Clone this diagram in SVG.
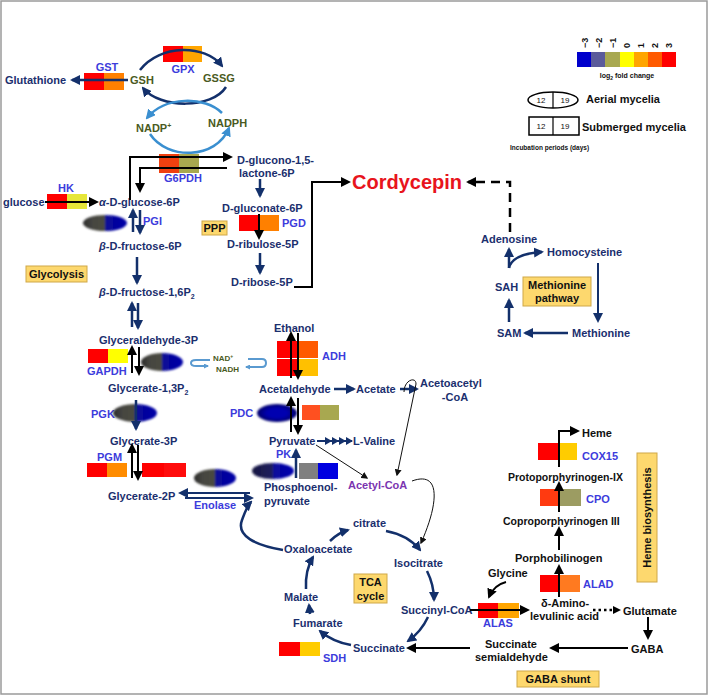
<svg xmlns="http://www.w3.org/2000/svg" width="709" height="696" viewBox="0 0 709 696">
<style>
text{font-family:"Liberation Sans",Arial,sans-serif;font-weight:bold}
.t{font-size:11px;fill:#1b2f6e}
.k{font-size:11px;fill:#111}
.kh{font-size:10.5px;fill:#111}
.e{font-size:11px;fill:#3c3cdc}
.g{font-size:11px;fill:#4a5a22}
.nv{fill:none;stroke:#13306b;stroke-width:2.5}
.nt{fill:none;stroke:#13306b;stroke-width:2}
.bk{fill:none;stroke:#000;stroke-width:2}
.bt{fill:none;stroke:#111;stroke-width:1}
.lb{fill:none;stroke:#3a8fd0;stroke-width:2.5}
.yb{fill:#fdd86e;stroke:#cfa848;stroke-width:1}
.bx{fill:#111;font-size:11px;text-anchor:middle}
</style>
<defs>
<marker id="an" viewBox="0 0 10 10" refX="8" refY="5" markerWidth="10" markerHeight="10" markerUnits="userSpaceOnUse" orient="auto"><path d="M0,0 L10,5 L0,10 z" fill="#13306b"/></marker>
<marker id="ab" viewBox="0 0 10 10" refX="8" refY="5" markerWidth="10" markerHeight="10" markerUnits="userSpaceOnUse" orient="auto"><path d="M0,0 L10,5 L0,10 z" fill="#000"/></marker>
<marker id="as" viewBox="0 0 10 10" refX="8" refY="5" markerWidth="7" markerHeight="7" markerUnits="userSpaceOnUse" orient="auto"><path d="M0,0 L10,5 L0,10 z" fill="#111"/></marker>
<marker id="al" viewBox="0 0 10 10" refX="8" refY="5" markerWidth="10" markerHeight="10" markerUnits="userSpaceOnUse" orient="auto"><path d="M0,0 L10,5 L0,10 z" fill="#3a8fd0"/></marker>
<marker id="als" viewBox="0 0 10 10" refX="8" refY="5" markerWidth="5" markerHeight="5" markerUnits="userSpaceOnUse" orient="auto"><path d="M0,0 L10,5 L0,10 z" fill="#5a9ad0"/></marker>
<linearGradient id="gb" x1="0" x2="1" y1="0" y2="0">
<stop offset="0" stop-color="#2a2a2a"/><stop offset="0.2" stop-color="#454540"/><stop offset="0.5" stop-color="#4a4a40"/><stop offset="0.5" stop-color="#0a0a95"/><stop offset="1" stop-color="#0000a8"/></linearGradient>
<linearGradient id="gk" x1="0" x2="1" y1="0" y2="0">
<stop offset="0" stop-color="#151540"/><stop offset="0.5" stop-color="#202060"/><stop offset="0.5" stop-color="#0a0a9a"/><stop offset="1" stop-color="#0000b0"/></linearGradient>
<radialGradient id="gp"><stop offset="0.5" stop-color="#0000b0"/><stop offset="1" stop-color="#00006a"/></radialGradient>
<filter id="soft" x="-20%" y="-40%" width="140%" height="180%"><feGaussianBlur stdDeviation="1.2"/></filter>
</defs>
<rect x="0" y="0" width="709" height="696" fill="#fff"/>
<rect x="1" y="1" width="706" height="693" fill="none" stroke="#9a9a9a" stroke-width="1.5"/>

<!-- Legend -->
<g id="legend">
<rect x="577" y="52" width="14" height="15" fill="#0000cc"/>
<rect x="591" y="52" width="14" height="15" fill="#5b5b9b"/>
<rect x="605" y="52" width="15" height="15" fill="#a8a850"/>
<rect x="620" y="52" width="14" height="15" fill="#ffff00"/>
<rect x="634" y="52" width="14" height="15" fill="#ffa500"/>
<rect x="648" y="52" width="14" height="15" fill="#ff5a00"/>
<rect x="662" y="52" width="14" height="15" fill="#ff0000"/>
<g font-size="9" fill="#111" style="font-weight:normal">
<text transform="translate(588,48) rotate(-90)">−3</text>
<text transform="translate(602,48) rotate(-90)">−2</text>
<text transform="translate(616,48) rotate(-90)">−1</text>
<text transform="translate(630,48) rotate(-90)">0</text>
<text transform="translate(644,48) rotate(-90)">1</text>
<text transform="translate(658,48) rotate(-90)">2</text>
<text transform="translate(672,48) rotate(-90)">3</text>
</g>
<text x="627" y="78" font-size="7" fill="#111" text-anchor="middle">log<tspan font-size="5" dy="2">2</tspan><tspan dy="-2"> fold change</tspan></text>
<ellipse cx="553" cy="100" rx="25" ry="8" fill="#fff" stroke="#000" stroke-width="1.5"/>
<line x1="553" y1="92" x2="553" y2="108" stroke="#000" stroke-width="1.2"/>
<text x="541" y="103" font-size="8" fill="#111" text-anchor="middle" style="font-weight:normal">12</text>
<text x="565" y="103" font-size="8" fill="#111" text-anchor="middle" style="font-weight:normal">19</text>
<text x="586" y="103" font-size="11" fill="#111">Aerial mycelia</text>
<rect x="529" y="117" width="50" height="18" fill="#fff" stroke="#000" stroke-width="1.5"/>
<line x1="553" y1="117" x2="553" y2="135" stroke="#000" stroke-width="1.2"/>
<text x="541" y="129" font-size="8" fill="#111" text-anchor="middle" style="font-weight:normal">12</text>
<text x="565" y="129" font-size="8" fill="#111" text-anchor="middle" style="font-weight:normal">19</text>
<text x="582" y="131" font-size="11" fill="#111">Submerged mycelia</text>
<text x="510" y="150" font-size="6.5" fill="#111">Incubation periods (days)</text>
</g>

<!-- Glutathione cycle -->
<g id="glutathione-cycle">
<rect x="163" y="46" width="20" height="16" fill="#ff0000"/><rect x="183" y="46" width="19" height="16" fill="#ffa500"/>
<text class="e" x="183" y="73" text-anchor="middle">GPX</text>
<rect x="84" y="73" width="20" height="17" fill="#ff0000"/><rect x="104" y="73" width="20" height="17" fill="#ff8000"/>
<text class="e" x="107" y="71" text-anchor="middle">GST</text>
<text class="t" x="5" y="84">Glutathione</text>
<text class="g" x="130" y="84">GSH</text>
<text class="g" x="203" y="82">GSSG</text>
<text class="g" x="136" y="132">NADP<tspan font-size="7" dy="-4">+</tspan></text>
<text class="g" x="208" y="127">NADPH</text>
</g>

<!-- Glycolysis -->
<g id="glycolysis">
<text class="t" x="3" y="206">glucose</text>
<rect x="47" y="194" width="20" height="15" fill="#ff0000"/><rect x="67" y="194" width="20" height="15" fill="#e6e63a"/>
<text class="e" x="66" y="192" text-anchor="middle">HK</text>
<text class="t" x="99" y="206"><tspan font-style="italic">α</tspan>-D-glucose-6P</text>
<ellipse cx="105" cy="223" rx="22" ry="8" fill="url(#gb)" filter="url(#soft)"/>
<text class="e" x="143" y="225">PGI</text>
<text class="t" x="99" y="250"><tspan font-style="italic">β</tspan>-D-fructose-6P</text>
<rect class="yb" x="26" y="266" width="61" height="16"/>
<text class="bx" x="56.5" y="278">Glycolysis</text>
<text class="t" x="99" y="296"><tspan font-style="italic">β</tspan>-D-fructose-1,6P<tspan font-size="7" dy="3">2</tspan></text>
<text class="t" x="99" y="344">Glyceraldehyde-3P</text>
<rect x="88" y="349" width="20" height="14" fill="#ff0000"/><rect x="108" y="349" width="20" height="14" fill="#ffff00"/>
<text class="e" x="87" y="375">GAPDH</text>
<ellipse cx="162" cy="362" rx="21" ry="9" fill="url(#gb)" filter="url(#soft)"/>
<text x="213" y="361" font-size="8" fill="#4a5a22">NAD<tspan font-size="5" dy="-3">+</tspan></text>
<text x="216" y="372" font-size="8" fill="#4a5a22">NADH</text>
<text class="t" x="108" y="392">Glycerate-1,3P<tspan font-size="7" dy="3">2</tspan></text>
<text class="e" x="91" y="418">PGK</text>
<ellipse cx="135" cy="413" rx="22" ry="9" fill="url(#gb)" filter="url(#soft)"/>
<text class="t" x="110" y="445">Glycerate-3P</text>
<text class="e" x="97" y="461">PGM</text>
<rect x="87" y="463" width="20" height="14" fill="#ff0000"/><rect x="107" y="463" width="20" height="14" fill="#ff8c00"/>
<rect x="142" y="463" width="22" height="14" fill="#ff0000"/><rect x="164" y="463" width="22" height="14" fill="#ff0c0c"/>
<ellipse cx="215" cy="478" rx="21" ry="9" fill="url(#gb)" filter="url(#soft)"/>
<text class="t" x="108" y="500">Glycerate-2P</text>
<text class="e" x="194" y="509">Enolase</text>
</g>

<!-- Pentose phosphate pathway -->
<g id="ppp">
<rect x="159" y="154" width="20" height="19" fill="#f04010"/><rect x="179" y="154" width="20" height="19" fill="#a8a850"/>
<text class="e" x="183" y="182" text-anchor="middle">G6PDH</text>
<text class="t" x="237" y="164">D-glucono-1,5-</text>
<text class="t" x="239" y="177">lactone-6P</text>
<text class="t" x="222" y="212">D-gluconate-6P</text>
<rect class="yb" x="202" y="221" width="25" height="14"/>
<text class="bx" x="214.5" y="232">PPP</text>
<rect x="239" y="215" width="20" height="16" fill="#ff0000"/><rect x="259" y="215" width="20" height="16" fill="#ff8000"/>
<text class="e" x="282" y="227">PGD</text>
<text class="t" x="227" y="248">D-ribulose-5P</text>
<text class="t" x="231" y="286">D-ribose-5P</text>
</g>

<g id="cordycepin">
<text x="352" y="189" font-size="20" fill="#e8141c">Cordycepin</text>
</g>

<!-- Methionine pathway -->
<g id="methionine">
<text class="t" x="481" y="243">Adenosine</text>
<text class="t" x="547" y="256">Homocysteine</text>
<text class="t" x="495" y="291">SAH</text>
<rect class="yb" x="523" y="277" width="68" height="29"/>
<text class="bx" x="557" y="289">Methionine</text>
<text class="bx" x="557" y="302">pathway</text>
<text class="t" x="497" y="337">SAM</text>
<text class="t" x="572" y="337">Methionine</text>
</g>

<!-- Fermentation / pyruvate -->
<g id="pyruvate-branch">
<text class="t" x="274" y="332">Ethanol</text>
<rect x="277" y="341" width="20" height="17" fill="#ff0000"/><rect x="297" y="341" width="21" height="17" fill="#ff5a00"/>
<rect x="277" y="359" width="20" height="17" fill="#ff0000"/><rect x="297" y="359" width="21" height="17" fill="#ffc000"/>
<text class="e" x="322" y="360">ADH</text>
<text class="t" x="259" y="393">Acetaldehyde</text>
<text class="t" x="356" y="393">Acetate</text>
<text class="t" x="420" y="387">Acetoacetyl</text>
<text class="t" x="455" y="401" text-anchor="middle">-CoA</text>
<text class="e" x="230" y="417">PDC</text>
<ellipse cx="277" cy="413" rx="20" ry="9" fill="url(#gp)" filter="url(#soft)"/>
<rect x="302" y="405" width="18" height="15" fill="#ff5020"/><rect x="320" y="405" width="19" height="15" fill="#a8a850"/>
<text class="t" x="269" y="445">Pyruvate</text>
<text class="t" x="353" y="445">L-Valine</text>
<text class="e" x="276" y="458">PK</text>
<ellipse cx="273" cy="471" rx="21" ry="8" fill="url(#gk)" filter="url(#soft)"/>
<rect x="299" y="463" width="19" height="16" fill="#808080"/><rect x="318" y="463" width="20" height="16" fill="#0000e0"/>
<text class="t" x="264" y="491">Phosphoenol-</text>
<text class="t" x="264" y="505">pyruvate</text>
<text x="348" y="489" font-size="11" fill="#7b35b0">Acetyl-CoA</text>
</g>

<!-- TCA cycle -->
<g id="tca">
<text class="t" x="353" y="527">citrate</text>
<text class="t" x="284" y="553">Oxaloacetate</text>
<text class="t" x="394" y="567">Isocitrate</text>
<rect class="yb" x="354" y="574" width="33" height="29"/>
<text class="bx" x="370.5" y="586">TCA</text>
<text class="bx" x="370.5" y="600">cycle</text>
<text class="t" x="284" y="601">Malate</text>
<text class="t" x="401" y="614">Succinyl-CoA</text>
<text class="t" x="293" y="627">Fumarate</text>
<text class="t" x="353" y="652">Succinate</text>
<rect x="279" y="642" width="21" height="14" fill="#ff0000"/><rect x="300" y="642" width="20" height="14" fill="#ffcc00"/>
<text class="e" x="323" y="662">SDH</text>
</g>

<!-- Heme biosynthesis and GABA shunt -->
<g id="heme">
<text class="k" x="582" y="437">Heme</text>
<rect x="538" y="443" width="20" height="17" fill="#ff0000"/><rect x="558" y="443" width="19" height="17" fill="#ffcc00"/>
<text class="e" x="582" y="460">COX15</text>
<text class="kh" x="508" y="481">Protoporphyrinogen-IX</text>
<rect x="540" y="489" width="20" height="17" fill="#ff3a10"/><rect x="560" y="489" width="21" height="17" fill="#9c9c62"/>
<text class="e" x="586" y="503">CPO</text>
<text class="kh" x="503" y="525">Coproporphyrinogen III</text>
<text class="k" x="515" y="562">Porphobilinogen</text>
<rect x="540" y="575" width="20" height="17" fill="#ff0000"/><rect x="560" y="575" width="20" height="17" fill="#ff7a20"/>
<text class="e" x="583" y="588">ALAD</text>
<rect class="yb" x="637" y="453" width="20" height="129"/>
<text class="bx" transform="translate(651,517.5) rotate(-90)">Heme biosynthesis</text>
<text class="k" x="488" y="577">Glycine</text>
<rect x="478" y="603" width="20" height="15" fill="#ff0000"/><rect x="498" y="603" width="21" height="15" fill="#ffa500"/>
<text class="e" x="483" y="627">ALAS</text>
<text class="k" x="541" y="607">δ-Amino-</text>
<text class="k" x="530" y="620">levulinic acid</text>
<text class="k" x="623" y="615">Glutamate</text>
<text class="k" x="631" y="653">GABA</text>
<text class="k" x="485" y="648">Succinate</text>
<text class="k" x="475" y="661">semialdehyde</text>
<rect class="yb" x="517" y="671" width="82" height="16"/>
<text class="bx" x="558" y="683">GABA shunt</text>
</g>

<!-- Connectors -->
<g id="connectors">
<line class="nv" x1="128" y1="80" x2="72" y2="80" marker-end="url(#an)"/>
<path class="nv" d="M140,70 C160,44 205,44 222,66" marker-end="url(#an)"/>
<path class="nv" d="M226,87 C212,109 160,109 143,88" marker-end="url(#an)"/>
<path class="lb" d="M222,113 C205,96 165,96 147,118" marker-end="url(#al)"/>
<path class="lb" d="M150,134 C167,160 216,160 229,128" marker-end="url(#al)"/>
<polyline class="bk" points="130,200 130,157 231,157" marker-end="url(#ab)"/>
<polyline class="bk" points="227,168 140,168 140,191" marker-end="url(#ab)"/>
<line class="bk" x1="45" y1="202" x2="97" y2="202" marker-end="url(#ab)"/>
<line class="nv" x1="133" y1="232" x2="133" y2="210" marker-end="url(#an)"/>
<line class="nv" x1="140" y1="210" x2="140" y2="233" marker-end="url(#an)"/>
<line class="nv" x1="137" y1="257" x2="137" y2="283" marker-end="url(#an)"/>
<line class="nv" x1="132" y1="327" x2="132" y2="303" marker-end="url(#an)"/>
<line class="nv" x1="138" y1="303" x2="138" y2="328" marker-end="url(#an)"/>
<line class="bk" x1="132" y1="373" x2="132" y2="347" marker-end="url(#ab)"/>
<line class="bk" x1="139" y1="347" x2="139" y2="374" marker-end="url(#ab)"/>
<line class="nv" x1="136" y1="400" x2="136" y2="429" marker-end="url(#an)"/>
<line class="bk" x1="132" y1="478" x2="132" y2="445" marker-end="url(#ab)"/>
<line class="bk" x1="138" y1="445" x2="138" y2="479" marker-end="url(#ab)"/>
<line class="nt" x1="250" y1="493" x2="180" y2="493" marker-end="url(#an)"/>
<line class="nt" x1="185" y1="498" x2="252" y2="498" marker-end="url(#an)"/>
<path fill="none" stroke="#5a9ad0" stroke-width="2" d="M210,360 L196,360 Q191,360 191,363 Q191,366 196,366 L208,366" marker-end="url(#als)"/>
<path fill="none" stroke="#5a9ad0" stroke-width="2" d="M248,359 L262,359 Q266,359 266,363 Q266,367 262,367 L246,367" marker-end="url(#als)"/>
<line class="nv" x1="260" y1="179" x2="260" y2="196" marker-end="url(#an)"/>
<line class="bk" x1="259" y1="214" x2="259" y2="238" marker-end="url(#ab)"/>
<line class="nv" x1="260" y1="253" x2="260" y2="273" marker-end="url(#an)"/>
<polyline class="bk" stroke-width="2.5" points="294,287 312,287 312,182 349,182" marker-end="url(#ab)"/>
<polyline fill="none" stroke="#000" stroke-width="2.5" stroke-dasharray="9,6" points="510,232 510,182 468,182" marker-end="url(#ab)"/>
<line class="nv" x1="509" y1="322" x2="509" y2="300" marker-end="url(#an)"/>
<line class="nv" x1="509" y1="268" x2="509" y2="249" marker-end="url(#an)"/>
<path class="nv" d="M509,268 Q512,254 542,252" marker-end="url(#an)"/>
<line class="nt" x1="598" y1="263" x2="598" y2="321" marker-end="url(#an)"/>
<line class="nv" x1="568" y1="333" x2="525" y2="333" marker-end="url(#an)"/>
<line class="bk" x1="291" y1="378" x2="291" y2="333" marker-end="url(#ab)"/>
<line class="bk" x1="298" y1="333" x2="298" y2="378" marker-end="url(#ab)"/>
<line class="bk" x1="291" y1="432" x2="291" y2="398" marker-end="url(#ab)"/>
<line class="bk" x1="298" y1="398" x2="298" y2="433" marker-end="url(#ab)"/>
<line class="nv" x1="334" y1="389" x2="354" y2="389" marker-end="url(#an)"/>
<line class="nv" x1="400" y1="389" x2="417" y2="389" marker-end="url(#an)"/>
<path class="bt" stroke-width="1.3" d="M404,392 C404,380 416,376 416,384 L397,475" marker-end="url(#as)"/>
<line class="nt" x1="317" y1="441" x2="352" y2="441"/>
<path fill="#13306b" d="M325,437 L332,441 L325,445 z M332,437 L339,441 L332,445 z M339,437 L346,441 L339,445 z M346,437 L353,441 L346,445 z"/>
<line class="bt" x1="316" y1="445" x2="367" y2="478" marker-end="url(#as)"/>
<line class="nv" x1="296" y1="478" x2="296" y2="450" marker-end="url(#an)"/>
<path class="bt" stroke-width="1.3" d="M412,481 C442,470 438,505 421,543" marker-end="url(#as)"/>
<path class="nv" d="M330,541 Q338,533 348,530" marker-end="url(#an)"/>
<path class="nv" d="M386,531 Q408,535 420,550" marker-end="url(#an)"/>
<path class="nv" d="M427,571 Q434,585 434,600" marker-end="url(#an)"/>
<path class="nv" d="M428,617 Q421,632 408,641" marker-end="url(#an)"/>
<path class="nv" d="M351,645 Q333,642 320,631" marker-end="url(#an)"/>
<line class="nv" x1="310" y1="614" x2="309" y2="605" marker-end="url(#an)"/>
<path class="nv" d="M306,589 Q305,570 313,557" marker-end="url(#an)"/>
<path class="nv" d="M283,550 C255,545 236,536 242,520 C245,512 247,506 251,502" marker-end="url(#an)"/>
<line class="bk" x1="470" y1="610" x2="528" y2="610" marker-end="url(#ab)"/>
<path class="bk" stroke-width="2.5" d="M506,582 Q494,585 489,597" marker-end="url(#ab)"/>
<line class="bk" x1="559" y1="597" x2="559" y2="566" marker-end="url(#ab)"/>
<line class="bk" x1="559" y1="550" x2="559" y2="528" marker-end="url(#ab)"/>
<line class="bk" x1="559" y1="512" x2="559" y2="483" marker-end="url(#ab)"/>
<polyline class="bk" points="559,467 559,431 578,431" marker-end="url(#ab)"/>
<line x1="593" y1="610" x2="614" y2="610" stroke="#000" stroke-width="2.5" stroke-dasharray="2.5,3"/>
<path d="M613,606 L621,610 L613,614 z" fill="#000"/>
<line class="bk" x1="648" y1="617" x2="648" y2="638" marker-end="url(#ab)"/>
<line class="bk" x1="628" y1="648" x2="551" y2="648" marker-end="url(#ab)"/>
<line class="bk" stroke-width="2.5" x1="470" y1="648" x2="408" y2="648" marker-end="url(#ab)"/>
</g>
</svg>
